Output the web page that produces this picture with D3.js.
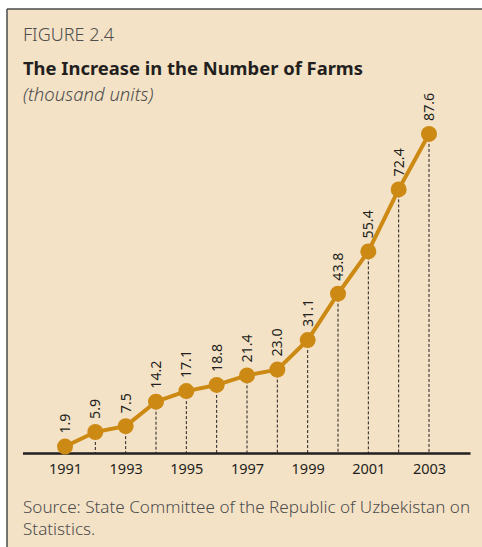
<!DOCTYPE html>
<html>
<head>
<meta charset="utf-8">
<script src="https://cdn.jsdelivr.net/npm/d3@7"></script>
<style>
  html, body { margin: 0; padding: 0; background: #ffffff; }
  svg { display: block; }
</style>
</head>
<body>
<svg id="chart" width="482" height="547"></svg>
<script>
const years = [1991, 1992, 1993, 1994, 1995, 1996, 1997, 1998, 1999, 2000, 2001, 2002, 2003];
const farms = [1.9, 5.9, 7.5, 14.2, 17.1, 18.8, 21.4, 23.0, 31.1, 43.8, 55.4, 72.4, 87.6];
const valueLabels = ["1.9", "5.9", "7.5", "14.2", "17.1", "18.8", "21.4", "23.0", "31.1", "43.8", "55.4", "72.4", "87.6"];
const tickYears = [1991, 1993, 1995, 1997, 1999, 2001, 2003];

const figureLabel = "FIGURE 2.4";
const title = "The Increase in the Number of Farms";
const subtitle = "(thousand units)";
const sourceLines = ["Source: State Committee of the Republic of Uzbekistan on", "Statistics."];

const FONT = "'Noto Sans', 'Open Sans', sans-serif";
const BG = "#f4e2c6";
const ORANGE = "#cc8a14";
const INK = "#231f20";

const svg = d3.select("#chart");

// panel
svg.append("rect").attr("x", 7).attr("y", 9).attr("width", 480).attr("height", 545).attr("fill", BG);
svg.append("line").attr("x1", 7).attr("y1", 9).attr("x2", 482).attr("y2", 9).attr("stroke", "#4a4a4a").attr("stroke-width", 1.5);
svg.append("line").attr("x1", 7).attr("y1", 9).attr("x2", 7).attr("y2", 547).attr("stroke", "#4a4a4a").attr("stroke-width", 1.5);

// headings
svg.append("text").attr("x", 23).attr("y", 41).text(figureLabel)
  .attr("font-family", FONT).attr("font-size", 18).attr("font-weight", 300).attr("fill", "#4d4d4d");
svg.append("text").attr("x", 23).attr("y", 75).text(title)
  .attr("font-family", FONT).attr("font-size", 18.4).attr("font-weight", 700).attr("fill", INK);
svg.append("text").attr("x", 23).attr("y", 101).text(subtitle)
  .attr("font-family", FONT).attr("font-size", 18.5).attr("font-style", "italic").attr("font-weight", 300).attr("fill", "#4d4d4d");

// scales
const x = d3.scaleLinear().domain([1991, 2003]).range([65, 429]);
const y = d3.scaleLinear().domain([0, 100]).range([453.5, 88.7]);

const data = years.map((yr, i) => ({ year: yr, value: farms[i], label: valueLabels[i] }));

// dashed drop lines
svg.append("g").selectAll("line").data(data).join("line")
  .attr("x1", d => x(d.year)).attr("x2", d => x(d.year))
  .attr("y1", d => y(d.value)).attr("y2", y(0))
  .attr("stroke", INK).attr("stroke-width", 1).attr("stroke-dasharray", "3,2");

// axis
const axisG = svg.append("g").attr("transform", `translate(0,${y(0)})`)
  .call(d3.axisBottom(x).tickValues(tickYears).tickFormat(d3.format("d")).tickSize(0).tickPadding(10));
axisG.select(".domain").remove();
axisG.selectAll("text").attr("font-family", FONT).attr("font-size", 14.5).attr("fill", INK);
svg.append("line").attr("x1", 23).attr("x2", 470.5).attr("y1", y(0)).attr("y2", y(0))
  .attr("stroke", INK).attr("stroke-width", 2.5);

// line
svg.append("path").datum(data)
  .attr("d", d3.line().x(d => x(d.year)).y(d => y(d.value)))
  .attr("fill", "none").attr("stroke", ORANGE).attr("stroke-width", 4).attr("stroke-linejoin", "round");

// points
svg.append("g").selectAll("circle").data(data).join("circle")
  .attr("cx", d => x(d.year)).attr("cy", d => y(d.value)).attr("r", 8)
  .attr("fill", ORANGE);

// value labels
svg.append("g").selectAll("text").data(data).join("text")
  .attr("transform", d => `translate(${x(d.year) + 5},${y(d.value) - 13}) rotate(-90)`)
  .attr("text-anchor", "start")
  .attr("font-family", FONT).attr("font-size", 14.2).attr("fill", INK)
  .text(d => d.label);

// source
svg.append("g").selectAll("text").data(sourceLines).join("text")
  .attr("x", 23).attr("y", (d, i) => 513 + i * 21.5)
  .attr("font-family", FONT).attr("font-size", 17.1).attr("font-weight", 300).attr("fill", "#4d4d4d")
  .text(d => d);
</script>
</body>
</html>
